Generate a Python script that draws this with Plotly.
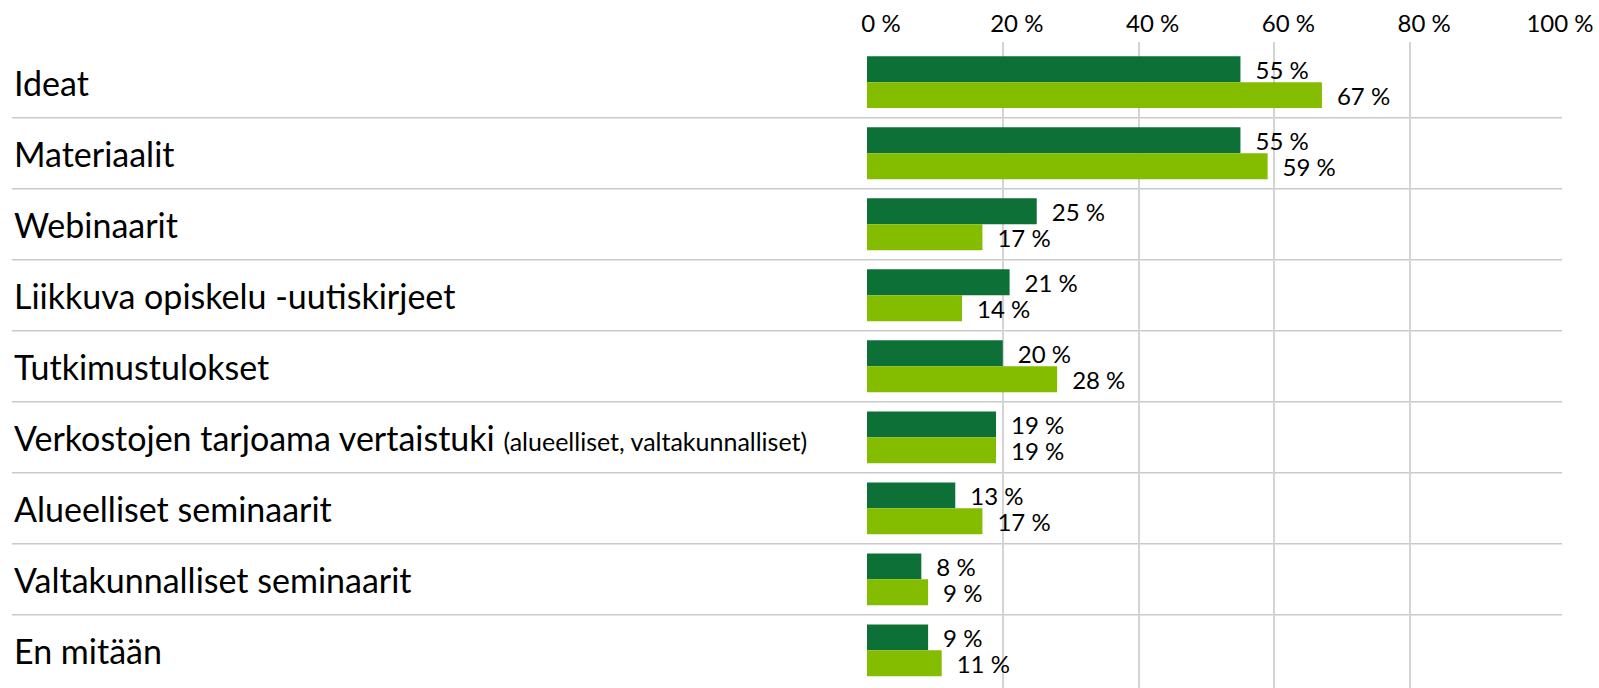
import plotly.graph_objects as go

# Survey categories (top to bottom) and the two response series, in percent
categories = [
    "Ideat",
    "Materiaalit",
    "Webinaarit",
    "Liikkuva opiskelu -uutiskirjeet",
    "Tutkimustulokset",
    "Verkostojen tarjoama vertaistuki",
    "Alueelliset seminaarit",
    "Valtakunnalliset seminaarit",
    "En mitään",
]
category_notes = ["", "", "", "", "", "(alueelliset, valtakunnalliset)", "", "", ""]
series_dark = [55, 55, 25, 21, 20, 19, 13, 8, 9]
series_light = [67, 59, 17, 14, 28, 19, 17, 9, 11]
tick_values = [0, 20, 40, 60, 80, 100]
tick_labels = ["0 %", "20 %", "40 %", "60 %", "80 %", "100 %"]

DARK = "#0D7137"
LIGHT = "#84BD00"
FONT = "Lato, Carlito, Calibri, sans-serif"
W, H = 1599, 688

fig = go.Figure()
for vals, col, name in [(series_dark, DARK, "Sarja 1"), (series_light, LIGHT, "Sarja 2")]:
    fig.add_trace(go.Bar(
        y=list(range(len(categories))),
        x=vals,
        orientation="h",
        marker=dict(color=col, line=dict(width=0)),
        name=name,
        text=[f"\u2002{v} %" for v in vals],
        textposition="outside",
        constraintext="none",
        textfont=dict(family=FONT, size=24, color="#000000"),
        cliponaxis=False,
        showlegend=False,
        hoverinfo="x+name",
    ))

# Left-aligned category labels
for i, (cat, note) in enumerate(zip(categories, category_notes)):
    txt = cat if not note else f"{cat} <span style='font-size:25px'>{note}</span>"
    fig.add_annotation(
        x=12 / W, xref="paper", y=i, yref="y",
        text=txt, showarrow=False, xanchor="left", yanchor="middle",
        font=dict(family=FONT, size=34, color="#000000"),
    )

# Horizontal separators between categories
for i in range(len(categories) - 1):
    fig.add_shape(
        type="line", xref="paper", yref="y",
        x0=12 / W, x1=1562 / W, y0=i + 0.5, y1=i + 0.5,
        line=dict(color="#C9C9C9", width=1.5), layer="below",
    )

fig.update_layout(
    width=W, height=H,
    margin=dict(l=0, r=0, t=0, b=0, pad=0, autoexpand=False),
    paper_bgcolor="white", plot_bgcolor="white",
    barmode="group", bargap=0.27, bargroupgap=0,
    xaxis=dict(
        domain=[867 / W, 1546 / W],
        range=[0, 100], side="top",
        tickvals=tick_values, ticktext=tick_labels,
        tickfont=dict(family=FONT, size=24, color="#000000"),
        showgrid=True, gridcolor="#D4D4D4", gridwidth=1.5,
        zeroline=False, showline=False, ticks="",
        ticklabelstandoff=4, ticklabelshift=14,
        automargin=False,
    ),
    yaxis=dict(
        domain=[0, 1 - 42 / H],
        range=[8.53, -0.566],
        showticklabels=False, showgrid=False, zeroline=False, ticks="",
        automargin=False,
    ),
)

fig.write_html("out.html")
